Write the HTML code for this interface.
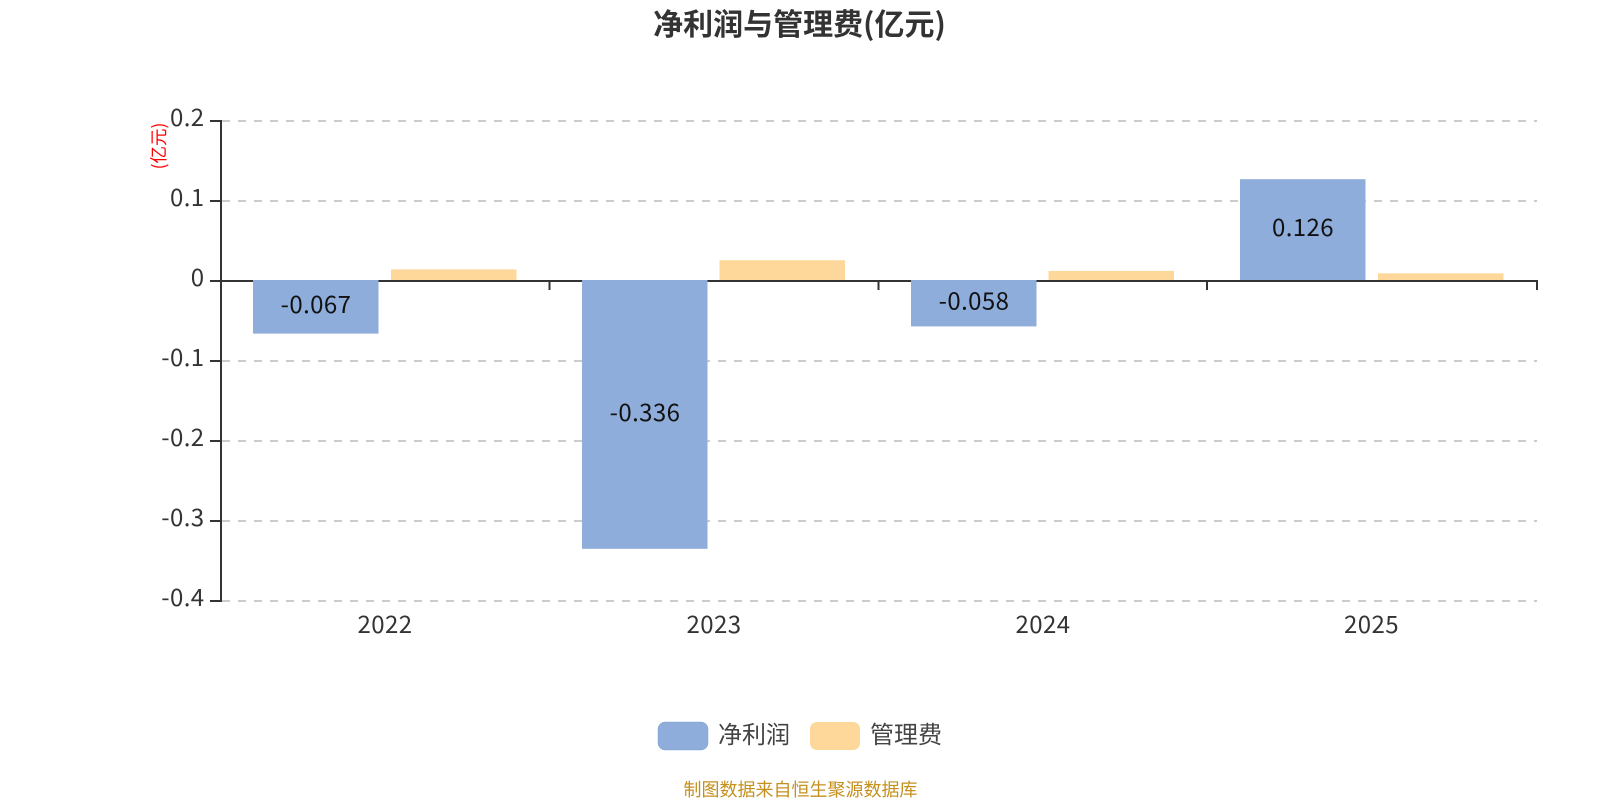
<!DOCTYPE html>
<html>
<head>
<meta charset="utf-8">
<style>
html,body{margin:0;padding:0;background:#fff;width:1600px;height:800px;overflow:hidden}
svg{display:block}
text{font-family:"Noto Sans CJK SC","Liberation Sans",sans-serif}
</style>
</head>
<body>
<svg width="1600" height="800" viewBox="0 0 1600 800" xmlns="http://www.w3.org/2000/svg">
<rect width="1600" height="800" fill="#fff"/>
<text x="799.500" y="35" font-size="30" font-weight="700" fill="#333" text-anchor="middle">净利润与管理费(亿元)</text>
<g stroke="#ccc" stroke-width="2" stroke-dasharray="8 8" fill="none">
<path d="M222 121H1537M222 201H1537M222 361H1537M222 441H1537M222 521H1537M222 601H1537"/>
</g>
<g stroke="#333" stroke-width="2" fill="none">
<path d="M221 120V602"/>
<path d="M210 121H221M210 201H221M210 281H221M210 361H221M210 441H221M210 521H221M210 601H221"/>
<path d="M220 281H1538"/>
<path d="M549.500 281V290M878.500 281V290M1207 281V290M1537 281V290"/>
</g>
<g fill="#8eadda">
<rect x="253" y="280" width="125.500" height="53.600"/>
<rect x="582" y="280" width="125.500" height="268.800"/>
<rect x="911" y="280" width="125.500" height="46.400"/>
<rect x="1240" y="179.200" width="125.500" height="100.800"/>
</g>
<g fill="#fed89b">
<rect x="391" y="269.400" width="125.500" height="10.600"/>
<rect x="719.500" y="260.200" width="125.500" height="19.800"/>
<rect x="1048.500" y="270.900" width="125.500" height="9.100"/>
<rect x="1378" y="273.300" width="125.500" height="6.700"/>
</g>
<g font-size="24" fill="#333" text-anchor="end" letter-spacing="0.400">
<text x="204.500" y="126">0.2</text>
<text x="204.500" y="206">0.1</text>
<text x="204.500" y="286">0</text>
<text x="204.500" y="366">-0.1</text>
<text x="204.500" y="446">-0.2</text>
<text x="204.500" y="526">-0.3</text>
<text x="204.500" y="606">-0.4</text>
</g>
<g font-size="24" fill="#333" text-anchor="middle" letter-spacing="0.400">
<text x="385" y="633">2022</text>
<text x="714" y="633">2023</text>
<text x="1043" y="633">2024</text>
<text x="1371.500" y="633">2025</text>
</g>
<g font-size="24" fill="#111" text-anchor="middle" letter-spacing="0.400">
<text x="316" y="313">-0.067</text>
<text x="645" y="421">-0.336</text>
<text x="974" y="309.500">-0.058</text>
<text x="1303" y="236">0.126</text>
</g>
<text transform="translate(165,146) rotate(-90)" font-size="17.500" fill="#f00" text-anchor="middle">(亿元)</text>
<rect x="658" y="722" width="50" height="28" rx="7" fill="#8eadda" stroke="#84a3d2" stroke-width="0.500"/>
<text x="718" y="743" font-size="24" fill="#444">净利润</text>
<rect x="810" y="722" width="50" height="28" rx="7" fill="#fed89b"/>
<text x="870" y="743" font-size="24" fill="#444">管理费</text>
<text x="800.500" y="796" font-size="18" fill="#c4901f" text-anchor="middle">制图数据来自恒生聚源数据库</text>
</svg>
</body>
</html>
